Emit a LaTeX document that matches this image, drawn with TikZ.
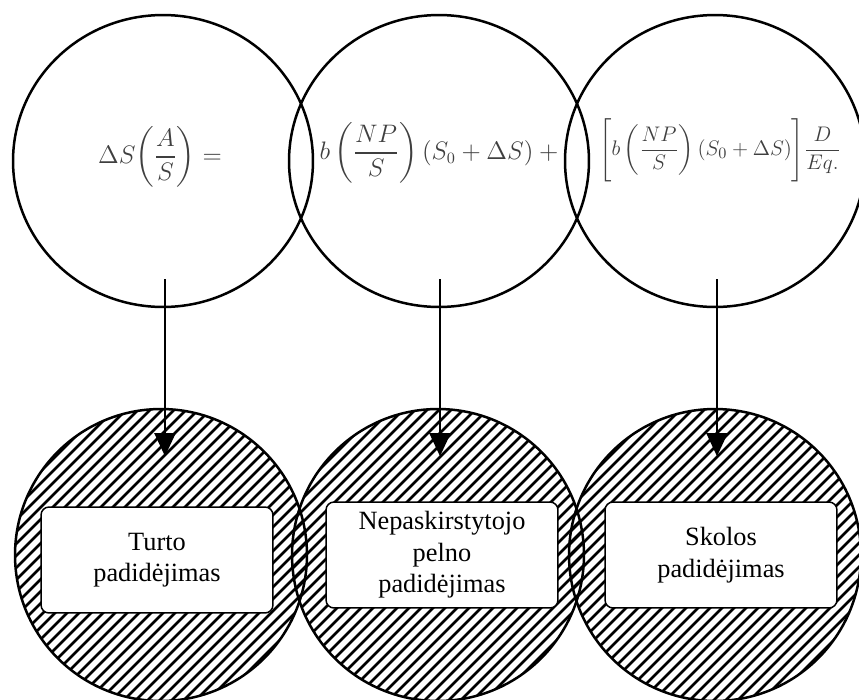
\documentclass[tikz,border=0pt]{standalone}
\usepackage{fontspec}
\setmainfont{Liberation Serif}
\usepackage{amsmath}
\usetikzlibrary{arrows.meta, shapes.geometric, calc}
\definecolor{fmgray}{HTML}{3F3F3F}

\begin{document}
\begin{tikzpicture}[
  x=0.02cm, y=-0.02cm,
  every node/.style={font=\fontsize{15}{18}\selectfont},
  topring/.style={ellipse, draw, line width=0.05cm, minimum width=6cm, minimum height=5.84cm, inner sep=0pt},
  formula/.style={text=fmgray, font=\fontsize{13.5}{16}\selectfont},
  hatched/.style={circle, draw, line width=0.05cm, minimum size=5.84cm, inner sep=0pt,
    path picture={
      \foreach \k in {-20,...,20}
        \draw[line width=0.055cm] ($(path picture bounding box.center)+(\k*0.24cm-4cm,-4cm)$) -- ++(8cm,8cm);
    }},
  labelbox/.style={rectangle, rounded corners=0.16cm, draw, fill=white, line width=0.03cm, minimum width=4.64cm, minimum height=2.12cm, align=center},
  arrow/.style={line width=0.04cm, -{Triangle[width=0.42cm, length=0.46cm]}},
]
\useasboundingbox (0,0) rectangle (859,700);

% Top circles
\node[topring] (t1) at (163,161) {};
\node[topring] (t2) at (439,161) {};
\node[topring] (t3) at (715,161) {};

% Formula parts
\node[formula] (f1) at (160,157) {$\displaystyle \Delta S\biggl(\frac{A}{S}\biggr) =$};
\node[formula] (f2) at (439,153) {$\displaystyle b\,\biggl(\frac{NP}{S}\biggr)\,(S_0+\Delta S)\:+$};
\node[formula, font=\fontsize{12.8}{15}\selectfont] (f3) at (720,150) {$\displaystyle \Biggl[b\,\biggl(\frac{NP}{S}\biggr)\,(S_0+\Delta S)\Biggr]\frac{D}{Eq.}$};

% Bottom circles
\node[hatched] (b1) at (161,555) {};
\node[hatched] (b2) at (438,555) {};
\node[hatched] (b3) at (715,555) {};

% Labels
\node[labelbox] (l1) at (157,560) {Turto\\padidėjimas};
\node[labelbox] (l2) at (442,555) {Nepaskirstytojo\\pelno\\padidėjimas};
\node[labelbox] (l3) at (721,555) {Skolos\\padidėjimas};

% Arrows
\draw[arrow] ([xshift=0.04cm, yshift=0.58cm]t1.south) -- ++(0,177);
\draw[arrow] ([xshift=0.02cm, yshift=0.58cm]t2.south) -- ++(0,177);
\draw[arrow] ([xshift=0.04cm, yshift=0.58cm]t3.south) -- ++(0,177);

\end{tikzpicture}
\end{document}
